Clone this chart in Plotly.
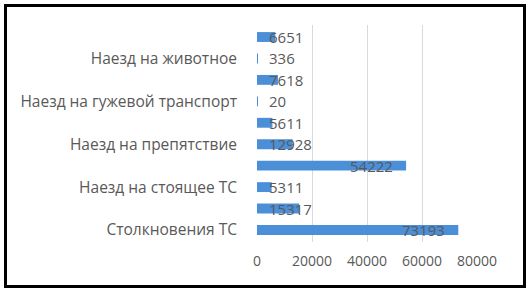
import plotly.graph_objects as go

categories = [
    "Столкновения ТС",
    "Опрокидывание",
    "Наезд на стоящее ТС",
    "Наезд на пешехода",
    "Наезд на препятствие",
    "Наезд на велосипедиста",
    "Наезд на гужевой транспорт",
    "Падение пассажира",
    "Наезд на животное",
    "Иной вид ДТП",
]
values = [73193, 15317, 5311, 54222, 12928, 5611, 20, 7618, 336, 6651]
shown_labels = categories[0::2]
x_ticks = [0, 20000, 40000, 60000, 80000]

W, H = 531, 295
L, R, T, B = 257, 54, 25, 53
pw, ph = W - L - R, H - T - B

FONT = "Open Sans, Liberation Sans, sans-serif"
GRAY = "#595959"

fig = go.Figure()
fig.add_trace(go.Bar(
    y=categories, x=values, orientation="h",
    marker=dict(color="#4a8fd8", line=dict(width=0)),
    hoverinfo="x+y",
))

def px(x):
    return (x - L) / pw

def py(y):
    return (H - B - y) / ph

annotations = []
for c, v in zip(categories, values):
    if v > 40000:
        annotations.append(dict(x=v, y=c, xref="x", yref="y", text=str(v),
                                showarrow=False, xanchor="right", xshift=-11,
                                font=dict(family=FONT, size=15, color=GRAY)))
    else:
        annotations.append(dict(x=0, y=c, xref="x", yref="y", text=str(v),
                                showarrow=False, xanchor="left", xshift=10,
                                font=dict(family=FONT, size=15, color=GRAY)))

fig.update_layout(
    width=W, height=H,
    margin=dict(l=L, r=R, t=T, b=B),
    paper_bgcolor="white", plot_bgcolor="white",
    bargap=0.54,
    showlegend=False,
    font=dict(family=FONT, size=15, color=GRAY),
    annotations=annotations,
    xaxis=dict(range=[0, 80000], tickvals=x_ticks, ticktext=[str(v) for v in x_ticks],
               showgrid=True, gridcolor="#d9d9d9", gridwidth=1, zeroline=False,
               showline=False, ticks="", tickfont=dict(size=14, color=GRAY), ticklabelstandoff=9),
    yaxis=dict(type="category", categoryorder="array", categoryarray=categories,
               tickvals=shown_labels, ticktext=shown_labels,
               showgrid=False, zeroline=False, showline=False, ticks="",
               tickfont=dict(size=15.5, color=GRAY), ticklabelstandoff=19),
    shapes=[dict(type="rect", xref="paper", yref="paper",
                 x0=px(5.5), x1=px(524.5), y0=py(286.5), y1=py(5.5),
                 line=dict(color="black", width=3), fillcolor="rgba(0,0,0,0)", layer="above")],
)

fig.write_html("out.html", config={"displayModeBar": False},
               post_script="document.body.style.margin='0';")
